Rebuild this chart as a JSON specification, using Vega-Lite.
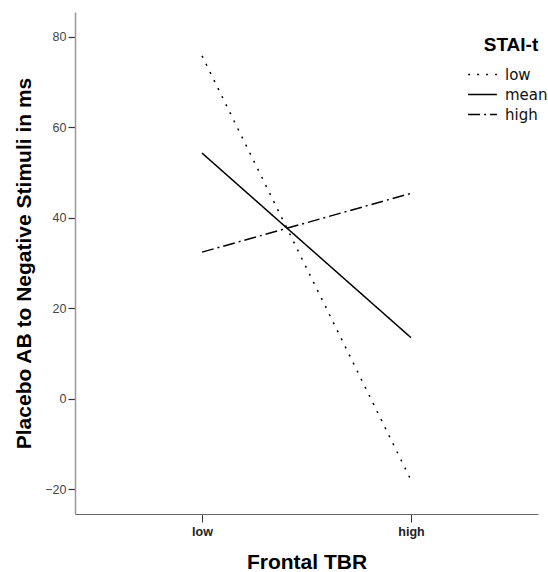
{
  "$schema": "https://vega.github.io/schema/vega-lite/v6.json",
  "width": 463,
  "height": 502,
  "autosize": {"type": "none"},
  "padding": {"left": 75, "top": 12, "right": 10, "bottom": 58},
  "background": "white",
  "config": {
    "view": {"stroke": null},
    "font": "Liberation Sans"
  },
  "data": {
    "values": [
      {"tbr": "low", "stai": "low", "ab": 75.8},
      {"tbr": "high", "stai": "low", "ab": -18.0},
      {"tbr": "low", "stai": "mean", "ab": 54.3},
      {"tbr": "high", "stai": "mean", "ab": 13.5},
      {"tbr": "low", "stai": "high", "ab": 32.4},
      {"tbr": "high", "stai": "high", "ab": 45.4}
    ]
  },
  "mark": {"type": "line", "color": "black", "strokeWidth": 1.5},
  "encoding": {
    "x": {
      "field": "tbr",
      "type": "ordinal",
      "sort": ["low", "high"],
      "scale": {"type": "point", "padding": 0.608},
      "axis": {
        "title": "Frontal TBR",
        "titleFont": "Liberation Sans",
        "titleFontSize": 21,
        "titleFontWeight": "bold",
        "titleColor": "black",
        "titleY": 54,
        "titleBaseline": "alphabetic",
        "labelAngle": 0,
        "labelFontSize": 12.5,
        "labelFontWeight": "bold",
        "labelColor": "#222",
        "labelPadding": 3,
        "tickSize": 8,
        "tickColor": "#333",
        "domainColor": "#666",
        "domainWidth": 1.2,
        "grid": false
      }
    },
    "y": {
      "field": "ab",
      "type": "quantitative",
      "scale": {"domain": [-25.5, 85.5], "nice": false, "zero": false},
      "axis": {
        "title": "Placebo AB to Negative Stimuli in ms",
        "titleFont": "Liberation Sans",
        "titleFontSize": 21,
        "titleFontWeight": "bold",
        "titleColor": "black",
        "titleX": -45,
        "titleBaseline": "alphabetic",
        "values": [-20, 0, 20, 40, 60, 80],
        "labelFontSize": 12.5,
        "labelColor": "#444",
        "labelPadding": 2,
        "tickSize": 7,
        "tickColor": "#333",
        "tickWidth": 1.2,
        "domainColor": "#999",
        "domainWidth": 1.5,
        "grid": false
      }
    },
    "strokeDash": {
      "field": "stai",
      "type": "nominal",
      "scale": {"domain": ["low", "mean", "high"], "range": [[2, 7], [1, 0], [12, 4, 2, 4]]},
      "legend": {
        "title": "STAI-t",
        "orient": "none",
        "legendX": 400,
        "legendY": 24,
        "padding": 0,
        "titleFont": "Liberation Sans",
        "titleFontSize": 19,
        "titleFontWeight": "bold",
        "titleColor": "black",
        "titleAnchor": "middle",
        "titlePadding": 12,
        "labelFont": "DejaVu Sans",
        "labelFontSize": 15,
        "labelColor": "#111",
        "labelOffset": 15,
        "rowPadding": 4,
        "symbolType": "M-3.2,0H3.2",
        "symbolSize": 81,
        "symbolStrokeColor": "black",
        "symbolStrokeWidth": 1.5
      }
    }
  }
}
